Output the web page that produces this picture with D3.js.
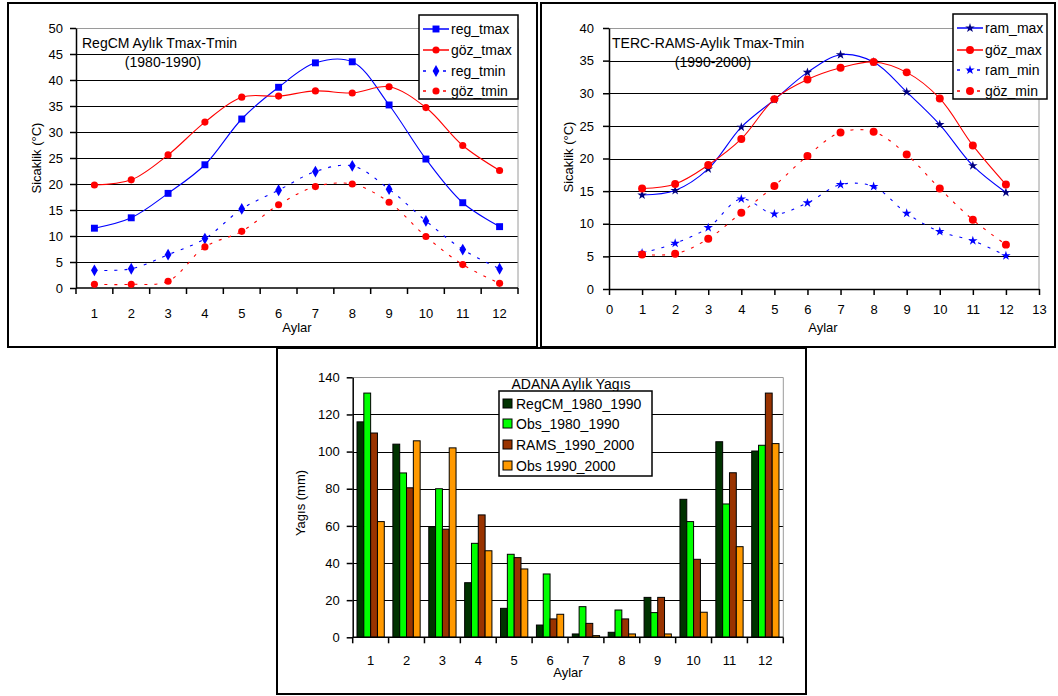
<!DOCTYPE html>
<html>
<head>
<meta charset="utf-8">
<script src="https://cdn.jsdelivr.net/npm/d3@7"></script>
<style>
  body { margin: 0; background: #fff; }
  svg { display: block; }
  text { font-family: Arial, "Liberation Sans", sans-serif; fill: #000; }
</style>
</head>
<body>
<svg id="chart" width="1058" height="696"></svg>
<script>
// ---- data ----
const months = [1, 2, 3, 4, 5, 6, 7, 8, 9, 10, 11, 12];

// RegCM 1980-1990 vs observed
const regTmax = [11.5, 13.5, 18.2, 23.7, 32.5, 38.6, 43.3, 43.5, 35.2, 24.8, 16.4, 11.8];
const gozTmax = [19.8, 20.8, 25.6, 31.9, 36.7, 36.9, 37.9, 37.5, 38.7, 34.7, 27.4, 22.6];
const regTmin = [3.4, 3.7, 6.4, 9.5, 15.2, 18.8, 22.4, 23.5, 19.0, 12.9, 7.4, 3.7];
const gozTmin = [0.7, 0.7, 1.3, 7.9, 10.9, 16.0, 19.5, 20.0, 16.5, 9.9, 4.5, 0.9];

// TERC-RAMS 1990-2000 vs observed
const ramMax = [14.4, 15.1, 18.4, 24.8, 29.0, 33.2, 35.9, 34.8, 30.2, 25.2, 18.9, 14.8];
const gozMax = [15.4, 16.1, 19.0, 23.0, 29.1, 32.1, 33.9, 34.8, 33.2, 29.2, 22.0, 16.0];
const ramMin = [5.5, 7.0, 9.4, 13.8, 11.5, 13.2, 16.0, 15.7, 11.6, 8.8, 7.4, 5.1];
const gozMin = [5.3, 5.4, 7.7, 11.7, 15.8, 20.4, 24.0, 24.1, 20.6, 15.4, 10.6, 6.8];

// ADANA monthly precipitation (mm)
const rainSeries = ['RegCM_1980_1990', 'Obs_1980_1990', 'RAMS_1990_2000', 'Obs 1990_2000'];
const regcmRain = [116, 104, 59.5, 29.4, 15.6, 6.6, 1.8, 2.7, 21.5, 74.3, 105.3, 100.3];
const obs8090Rain = [131.5, 88.5, 80, 50.6, 44.7, 34.1, 16.5, 14.7, 13.3, 62.3, 71.8, 103.4];
const ramsRain = [110, 80.5, 58.2, 65.9, 42.9, 9.9, 7.5, 9.9, 21.5, 42, 88.6, 131.5];
const obs9000Rain = [62.3, 105.8, 102, 46.6, 36.8, 12.4, 0.9, 1.8, 1.8, 13.5, 48.8, 104.3];

const svg = d3.select('#chart');

const shapes = {
    square: d3.symbolSquare,
    circle: d3.symbolCircle,
    diamond: d3.symbolDiamond,
    star: d3.symbolStar
};

function marker (sel, type, size, color) {
    sel.attr('d', d3.symbol().type(shapes[type]).size(size))
        .attr('fill', color)
        .attr('stroke', 'none');
}

// draws one of the two temperature panels
function linePanel (cfg) {
    const g = svg.append('g');
    const p = cfg.plot;

    g.append('rect')
        .attr('x', cfg.frame[0]).attr('y', cfg.frame[1])
        .attr('width', cfg.frame[2]).attr('height', cfg.frame[3])
        .attr('fill', '#fff').attr('stroke', '#000').attr('stroke-width', 2);

    const y = d3.scaleLinear().domain([0, cfg.yMax]).range([p.b, p.t]);
    const yTicks = d3.range(0, cfg.yMax + 0.1, cfg.yStep);

    // grid
    g.append('g').selectAll('line')
        .data(yTicks.filter(v => v > 0 && v < cfg.yMax))
        .enter().append('line')
        .attr('x1', p.l).attr('x2', p.r)
        .attr('y1', d => Math.round(y(d)) + 0.5).attr('y2', d => Math.round(y(d)) + 0.5)
        .attr('stroke', '#000').attr('stroke-width', 1.2);

    // plot area border (grey top/right)
    g.append('path')
        .attr('d', `M${p.l},${Math.round(p.t) + 0.5}H${p.r}V${p.b}`)
        .attr('fill', 'none').attr('stroke', '#9a9a9a');

    // y axis
    const ya = g.append('g')
        .attr('transform', `translate(${p.l},0)`)
        .call(d3.axisLeft(y).tickValues(yTicks).tickSize(6).tickPadding(cfg.yPad).tickSizeOuter(0));
    ya.selectAll('text').attr('font-size', 13);
    ya.selectAll('line,path').attr('stroke', '#000').attr('stroke-width', 1.5);

    // x axis
    let xPos;
    if (cfg.band) {
        const x = d3.scaleBand().domain(months).range([p.l, p.r]);
        xPos = m => x(m) + x.bandwidth() / 2;
        const xa = g.append('g').attr('transform', `translate(0,${p.b})`);
        xa.append('path').attr('d', `M${p.l},0H${p.r}`).attr('stroke', '#000').attr('stroke-width', 1.5);
        xa.selectAll('line').data(months.concat([13]))
            .enter().append('line')
            .attr('x1', (d, i) => i < 12 ? x(d) : p.r).attr('x2', (d, i) => i < 12 ? x(d) : p.r)
            .attr('y1', 0).attr('y2', 6)
            .attr('stroke', '#000').attr('stroke-width', 1.5);
        xa.selectAll('text').data(months)
            .enter().append('text')
            .attr('x', d => xPos(d)).attr('y', 30)
            .attr('text-anchor', 'middle').attr('font-size', 13)
            .text(d => d);
    } else {
        const x = d3.scaleLinear().domain([0, 13]).range([p.l, p.r]);
        xPos = m => x(m);
        const xa = g.append('g')
            .attr('transform', `translate(0,${p.b})`)
            .call(d3.axisBottom(x).tickValues(d3.range(0, 14)).tickSize(6).tickSizeOuter(0).tickPadding(10));
        xa.selectAll('text').attr('font-size', 13);
        xa.selectAll('line,path').attr('stroke', '#000').attr('stroke-width', 1.5);
    }

    // series
    const line = d3.line()
        .x((d, i) => xPos(months[i]))
        .y(d => y(d))
        .curve(d3.curveCatmullRom.alpha(0.5));

    cfg.series.forEach(s => {
        g.append('path')
            .attr('d', line(s.values))
            .attr('fill', 'none')
            .attr('stroke', s.color)
            .attr('stroke-width', 1.1)
            .attr('stroke-dasharray', s.dash || null);
        g.append('g').selectAll('path')
            .data(s.values)
            .enter().append('path')
            .attr('transform', (d, i) => `translate(${xPos(months[i])},${y(d)})`)
            .call(marker, s.shape, s.size, s.markColor || s.color);
    });

    // titles
    g.append('text')
        .attr('x', cfg.title.x).attr('y', cfg.title.y)
        .attr('font-size', 14).text(cfg.title.text);
    g.append('text')
        .attr('x', cfg.title.x2).attr('y', cfg.title.y + 19)
        .attr('text-anchor', 'middle')
        .attr('font-size', 14).text(cfg.title.sub);

    // axis labels
    g.append('text')
        .attr('transform', `translate(${cfg.yLabel[0]},${cfg.yLabel[1]}) rotate(-90)`)
        .attr('text-anchor', 'middle').attr('font-size', 13)
        .text('Sicaklik (°C)');
    g.append('text')
        .attr('x', cfg.xLabel[0]).attr('y', cfg.xLabel[1])
        .attr('text-anchor', 'middle').attr('font-size', 13)
        .text('Aylar');

    // legend
    const L = cfg.legend;
    const lg = g.append('g');
    lg.append('rect')
        .attr('x', L.x).attr('y', L.y).attr('width', L.w).attr('height', L.h)
        .attr('fill', '#fff').attr('stroke', '#000').attr('stroke-width', 1.5);
    cfg.series.forEach((s, i) => {
        const yy = L.rows[i];
        lg.append('line')
            .attr('x1', L.x + 4).attr('x2', L.x + 30)
            .attr('y1', yy).attr('y2', yy)
            .attr('stroke', s.color).attr('stroke-width', 1.5)
            .attr('stroke-dasharray', s.dash || null);
        lg.append('path')
            .attr('transform', `translate(${L.x + 17},${yy})`)
            .call(marker, s.shape, s.size, s.markColor || s.color);
        lg.append('text')
            .attr('x', L.x + 32).attr('y', yy + 5)
            .attr('font-size', 14).text(s.name);
    });
}

linePanel({
    frame: [8, 3, 529, 344],
    plot: { l: 76, r: 518, t: 28, b: 288 },
    yMax: 50, yStep: 5, yPad: 7,
    band: true,
    series: [
        { name: 'reg_tmax', values: regTmax, color: '#0000ff', shape: 'square', size: 48 },
        { name: 'göz_tmax', values: gozTmax, color: '#ff0000', shape: 'circle', size: 40 },
        { name: 'reg_tmin', values: regTmin, color: '#0000ff', shape: 'diamond', size: 40, dash: '3,7' },
        { name: 'göz_tmin', values: gozTmin, color: '#ff0000', shape: 'circle', size: 40, dash: '3,7' }
    ],
    title: { text: 'RegCM Aylık Tmax-Tmin', x: 82, y: 48, sub: '(1980-1990)', x2: 163 },
    yLabel: [41, 158],
    xLabel: [297, 332],
    legend: { x: 419, y: 15, w: 99, h: 84, rows: [29, 50, 71, 91] }
});

linePanel({
    frame: [541, 3, 514, 344],
    plot: { l: 609, r: 1039, t: 28, b: 289 },
    yMax: 40, yStep: 5, yPad: 9,
    band: false,
    series: [
        { name: 'ram_max', values: ramMax, color: '#0000ff', markColor: '#000080', shape: 'star', size: 28 },
        { name: 'göz_max', values: gozMax, color: '#ff0000', shape: 'circle', size: 50 },
        { name: 'ram_min', values: ramMin, color: '#0000ff', shape: 'star', size: 28, dash: '3,7' },
        { name: 'göz_min', values: gozMin, color: '#ff0000', shape: 'circle', size: 50, dash: '3,7' }
    ],
    title: { text: 'TERC-RAMS-Aylık Tmax-Tmin', x: 612, y: 48, sub: '(1990-2000)', x2: 713 },
    yLabel: [573, 157],
    xLabel: [823, 332],
    legend: { x: 953, y: 14, w: 94, h: 85, rows: [28, 50, 70, 91] }
});

// ---- precipitation bar chart ----
(function () {
    const g = svg.append('g');
    const p = { l: 352.7, r: 783.3, t: 377.3, b: 637.3 };
    const colors = ['#003300', '#00ff00', '#993300', '#ff9900'];
    const series = [regcmRain, obs8090Rain, ramsRain, obs9000Rain];

    g.append('rect')
        .attr('x', 277).attr('y', 348).attr('width', 529).attr('height', 346)
        .attr('fill', '#fff').attr('stroke', '#000').attr('stroke-width', 2);

    const y = d3.scaleLinear().domain([0, 140]).range([p.b, p.t]);
    const yTicks = d3.range(0, 141, 20);
    const x0 = d3.scaleBand().domain(months).range([p.l, p.r]).paddingInner(0.24).paddingOuter(0.12);
    const x1 = d3.scaleBand().domain(d3.range(4)).range([0, x0.bandwidth()]);

    g.append('g').selectAll('line')
        .data(yTicks.filter(v => v > 0 && v < 140))
        .enter().append('line')
        .attr('x1', p.l).attr('x2', p.r)
        .attr('y1', d => Math.round(y(d)) + 0.5).attr('y2', d => Math.round(y(d)) + 0.5)
        .attr('stroke', '#000').attr('stroke-width', 1.2);
    g.append('path')
        .attr('d', `M${p.l},${Math.round(p.t) + 0.5}H${p.r}V${p.b}`)
        .attr('fill', 'none').attr('stroke', '#9a9a9a');

    const rows = months.map((m, i) => ({ m, v: series.map(s => s[i]) }));
    g.append('g').selectAll('g')
        .data(rows)
        .enter().append('g')
        .attr('transform', d => `translate(${x0(d.m)},0)`)
        .selectAll('rect')
        .data(d => d.v)
        .enter().append('rect')
        .attr('x', (d, i) => x1(i))
        .attr('width', x1.bandwidth())
        .attr('y', d => y(d))
        .attr('height', d => p.b - y(d))
        .attr('fill', (d, i) => colors[i])
        .attr('stroke', '#000').attr('stroke-width', 1);

    const ya = g.append('g')
        .attr('transform', `translate(${p.l},0)`)
        .call(d3.axisLeft(y).tickValues(yTicks).tickSize(6).tickPadding(7).tickSizeOuter(0));
    ya.selectAll('text').attr('font-size', 13);
    ya.selectAll('line,path').attr('stroke', '#000').attr('stroke-width', 1.5);

    const step = (p.r - p.l) / 12;
    const xa = g.append('g').attr('transform', `translate(0,${p.b})`);
    xa.append('path').attr('d', `M${p.l},0H${p.r}`).attr('stroke', '#000').attr('stroke-width', 1.5);
    xa.selectAll('line').data(d3.range(13))
        .enter().append('line')
        .attr('x1', d => p.l + d * step).attr('x2', d => p.l + d * step)
        .attr('y1', 0).attr('y2', 6)
        .attr('stroke', '#000').attr('stroke-width', 1.5);
    xa.selectAll('text').data(months)
        .enter().append('text')
        .attr('x', d => x0(d) + x0.bandwidth() / 2).attr('y', 28)
        .attr('text-anchor', 'middle').attr('font-size', 13)
        .text(d => d);

    g.append('text')
        .attr('transform', 'translate(305,503) rotate(-90)')
        .attr('text-anchor', 'middle').attr('font-size', 13)
        .text('Yagıs (mm)');
    g.append('text')
        .attr('x', 568).attr('y', 677)
        .attr('text-anchor', 'middle').attr('font-size', 13)
        .text('Aylar');

    // legend with its title
    g.append('text')
        .attr('x', 571).attr('y', 389)
        .attr('text-anchor', 'middle').attr('font-size', 14)
        .text('ADANA Aylık Yagıs');
    const lg = g.append('g');
    lg.append('rect')
        .attr('x', 499).attr('y', 391).attr('width', 153).attr('height', 85)
        .attr('fill', '#fff').attr('stroke', '#000').attr('stroke-width', 1.5);
    const legRows = [404, 424, 445, 466];
    rainSeries.forEach((name, i) => {
        lg.append('rect')
            .attr('x', 503).attr('y', legRows[i] - 5)
            .attr('width', 9).attr('height', 9)
            .attr('fill', colors[i]).attr('stroke', '#000');
        lg.append('text')
            .attr('x', 516).attr('y', legRows[i] + 5)
            .attr('font-size', 14).text(name);
    });
})();
</script>
</body>
</html>
